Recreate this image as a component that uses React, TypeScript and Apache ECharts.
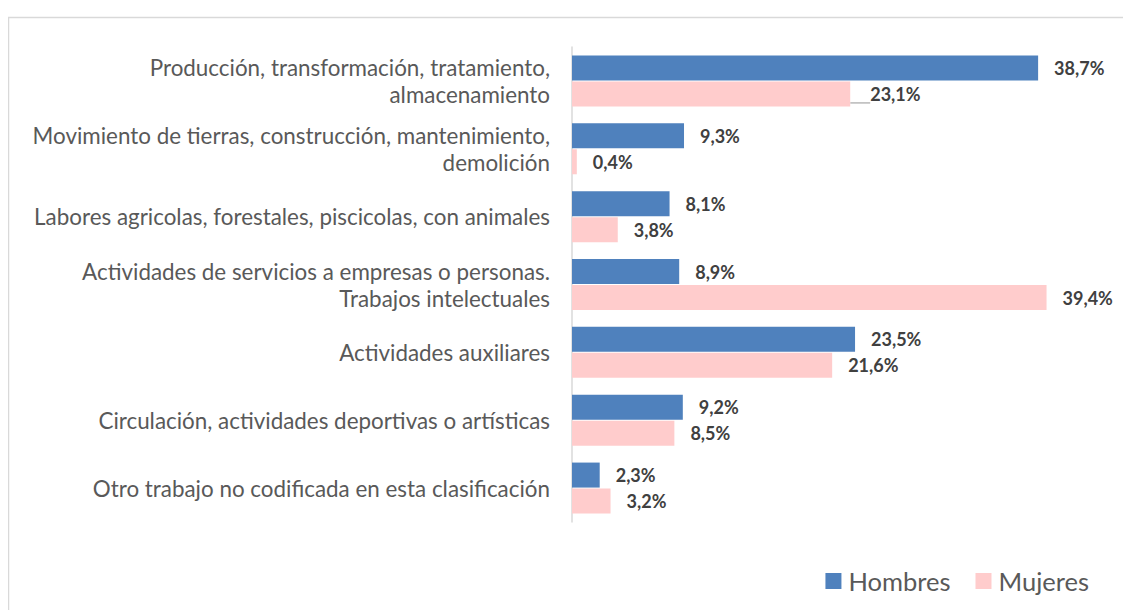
import React, { useEffect, useRef } from "react";
import * as echarts from "echarts";

const categories = [
  "Producción, transformación, tratamiento,\nalmacenamiento",
  "Movimiento de tierras, construcción, mantenimiento,\ndemolición",
  "Labores agricolas, forestales, piscicolas, con animales",
  "Actividades de servicios a empresas o personas.\nTrabajos intelectuales",
  "Actividades auxiliares",
  "Circulación, actividades deportivas o artísticas",
  "Otro trabajo no codificada en esta clasificación",
];
const hombres = [38.7, 9.3, 8.1, 8.9, 23.5, 9.2, 2.3];
const mujeres = [23.1, 0.4, 3.8, 39.4, 21.6, 8.5, 3.2];

const FONT = "Lato";

export default function App() {
  const ref = useRef<HTMLDivElement>(null);
  useEffect(() => {
    if (!ref.current) return;
    const chart = echarts.init(ref.current, null, { renderer: "svg" });
    const labelCfg = {
      show: true,
      position: "right",
      distance: 16,
      fontFamily: FONT,
      fontWeight: "bold",
      fontSize: 18,
      color: "#404040",
      formatter: (p: any) => p.value.toFixed(1).replace(".", ",") + "%",
    };
    const mujeresData = mujeres.map((v, i) =>
      i === 0
        ? {
            value: v,
            label: { distance: 20 },
            labelLine: { show: true },
          }
        : { value: v }
    );
    chart.setOption({
      animation: false,
      textStyle: { fontFamily: FONT },
      graphic: [
        {
          type: "rect",
          shape: { x: 0.5, y: 9.5, width: 1140, height: 620 },
          style: { fill: "none", stroke: "#d9d9d9", lineWidth: 1.5 },
          silent: true,
        },
      ],
      legend: {
        data: ["Hombres", "Mujeres"],
        right: 37,
        top: 555,
        itemWidth: 16,
        itemHeight: 16,
        itemGap: 25,
        icon: "rect",
        textStyle: { fontFamily: FONT, fontSize: 25.5, color: "#595959", padding: [0, 0, 0, 2] },
      },
      grid: { left: 564, top: 39, width: 542, bottom: 88, containLabel: false },
      xAxis: {
        type: "value",
        min: 0,
        max: 45,
        show: false,
      },
      yAxis: {
        type: "category",
        data: categories,
        inverse: true,
        axisLine: { show: true, lineStyle: { color: "#d9d9d9", width: 1.5 } },
        axisTick: { show: false },
        axisLabel: {
          fontFamily: FONT,
          fontSize: 22.4,
          lineHeight: 27,
          color: "#595959",
          align: "right",
          margin: 22,
        },
        splitLine: { show: false },
      },
      series: [
        {
          name: "Hombres",
          type: "bar",
          data: hombres,
          barWidth: 25,
          barGap: "4%",
          itemStyle: { color: "#4F81BD" },
          label: labelCfg,
        },
        {
          name: "Mujeres",
          type: "bar",
          data: mujeresData,
          barWidth: 25,
          itemStyle: { color: "#FFCCCC" },
          label: labelCfg,
          labelLine: { show: false, lineStyle: { color: "#a6a6a6", width: 1.2 } },
        },
      ],
    });
    return () => chart.dispose();
  }, []);
  return <div ref={ref} style={{ width: 1123, height: 602 }} />;
}
